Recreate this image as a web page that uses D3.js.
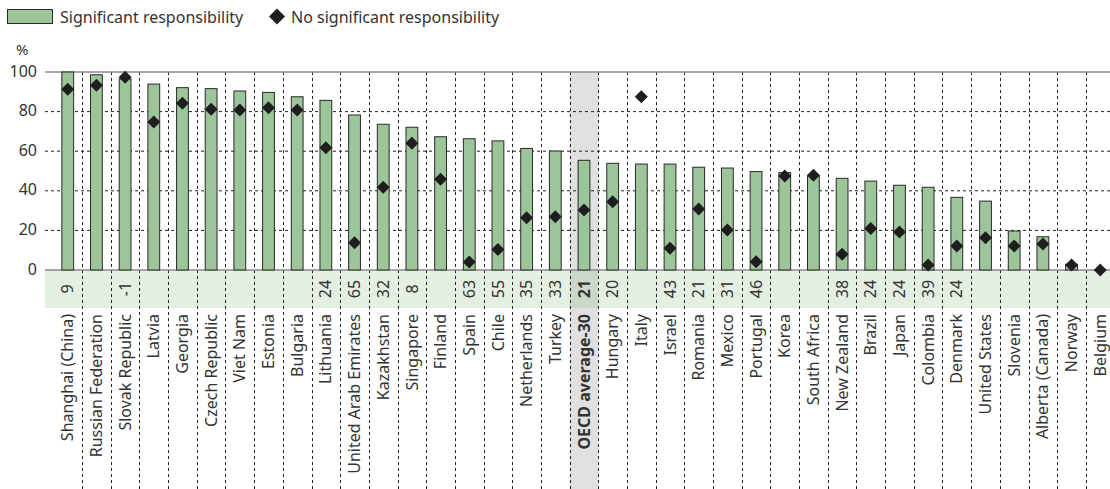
<!DOCTYPE html>
<html>
<head>
<meta charset="utf-8">
<script src="https://cdn.jsdelivr.net/npm/d3@7/dist/d3.min.js"></script>
<style>
  html, body { margin: 0; padding: 0; background: #fff; }
  svg { display: block; font-family: "Noto Sans", "Open Sans", sans-serif; }
</style>
</head>
<body>
<svg id="chart" width="1110" height="489"></svg>
<script>
const categories = ["Shanghai (China)", "Russian Federation", "Slovak Republic", "Latvia", "Georgia", "Czech Republic", "Viet Nam", "Estonia", "Bulgaria", "Lithuania", "United Arab Emirates", "Kazakhstan", "Singapore", "Finland", "Spain", "Chile", "Netherlands", "Turkey", "OECD average-30", "Hungary", "Italy", "Israel", "Romania", "Mexico", "Portugal", "Korea", "South Africa", "New Zealand", "Brazil", "Japan", "Colombia", "Denmark", "United States", "Slovenia", "Alberta (Canada)", "Norway", "Belgium"];
const significant = [100, 98.6, 96.5, 93.9, 92.1, 91.6, 90.4, 89.7, 87.5, 85.7, 78.3, 73.6, 72.1, 67.3, 66.3, 65.2, 61.4, 60.1, 55.4, 53.9, 53.5, 53.5, 51.9, 51.5, 49.7, 49.2, 47.6, 46.3, 44.9, 42.8, 41.8, 36.7, 34.8, 19.7, 16.8, 2.9, 0];
const noSignificant = [91.3, 93.3, 97.3, 74.7, 84.2, 81.2, 80.8, 82, 80.8, 61.8, 13.8, 41.8, 64, 45.8, 4, 10.4, 26.4, 26.9, 30.3, 34.5, 87.5, 11, 30.8, 20.2, 4.2, 47.5, 47.8, 7.9, 21, 19.2, 2.5, 12.1, 16.3, 12.1, 13.1, 2.5, 0];
const differences = ["9", "", "-1", "", "", "", "", "", "", "24", "65", "32", "8", "", "63", "55", "35", "33", "21", "20", "", "43", "21", "31", "46", "", "", "38", "24", "24", "39", "24", "", "", "", "", ""];
const yTicks = [0, 20, 40, 60, 80, 100];
const highlight = "OECD average-30";
const legendLabels = ["Significant responsibility", "No significant responsibility"];

const svg = d3.select("#chart");
const W = 1110, H = 489;
const plotLeft = 45, plotTop = 72, plotBottom = 270;
const rowTop = 270, rowBottom = 308;
const labelTop = 314;

const x = d3.scaleBand().domain(categories).range([53.4, 53.4 + 37 * 28.68]).paddingInner(0).paddingOuter(0);
const y = d3.scaleLinear().domain([0, 100]).range([plotBottom, plotTop]);

const textColor = "#333";
const barFill = "#9cc59a";
const rowFill = "#e5efe1";

// OECD highlight column
svg.append("rect")
  .attr("x", x(highlight)).attr("y", plotTop)
  .attr("width", x.bandwidth()).attr("height", H - plotTop)
  .attr("fill", "#e0e0e0");

// difference row background
svg.append("rect")
  .attr("x", plotLeft).attr("y", rowTop)
  .attr("width", W - plotLeft).attr("height", rowBottom - rowTop)
  .attr("fill", rowFill);
svg.append("rect")
  .attr("x", x(highlight)).attr("y", rowTop)
  .attr("width", x.bandwidth()).attr("height", rowBottom - rowTop)
  .attr("fill", "#ccd6c9");

// horizontal gridlines
svg.append("g").selectAll("line")
  .data(yTicks.filter(d => d > 0 && d < 100))
  .join("line")
  .attr("x1", plotLeft).attr("x2", W)
  .attr("y1", d => y(d)).attr("y2", d => y(d))
  .attr("stroke", "#222").attr("stroke-width", 1)
  .attr("stroke-dasharray", "3,3");

// vertical dashed separators
svg.append("g").selectAll("line")
  .data(categories.slice(1))
  .join("line")
  .attr("x1", d => Math.round(x(d)) + 0.5).attr("x2", d => Math.round(x(d)) + 0.5)
  .attr("y1", plotTop).attr("y2", H)
  .attr("stroke", "#222").attr("stroke-width", 1)
  .attr("stroke-dasharray", "3,3");

// top and baseline lines
[100, 0].forEach(v => {
  svg.append("line")
    .attr("x1", plotLeft).attr("x2", W)
    .attr("y1", y(v)).attr("y2", y(v))
    .attr("stroke", "#8a8a8a").attr("stroke-width", 1.5);
});

// y axis labels
const yAxis = d3.axisLeft(y).tickValues(yTicks).tickSize(0).tickPadding(0);
const gy = svg.append("g").attr("transform", `translate(37,0)`).call(yAxis);
gy.select(".domain").remove();
gy.selectAll("text")
  .attr("font-size", 16).attr("fill", textColor)
  .attr("font-family", "'Noto Sans', sans-serif")
  .attr("dy", null).attr("y", -2).attr("dominant-baseline", "central");

svg.append("text").attr("x", 16).attr("y", 55)
  .attr("font-size", 15).attr("fill", textColor).text("%");

// bars
const bw = 11.8;
svg.append("g").selectAll("rect")
  .data(categories.map((c, i) => ({c, v: significant[i]})).filter(d => d.v > 0))
  .join("rect")
  .attr("x", d => x(d.c) + x.bandwidth() / 2 - bw / 2)
  .attr("y", d => y(d.v))
  .attr("width", bw)
  .attr("height", d => y(0) - y(d.v))
  .attr("fill", barFill)
  .attr("stroke", "#2a2a2a").attr("stroke-width", 1);

// diamonds
const dsz = 6.5;
const diamond = `M0,${-dsz}L${dsz},0L0,${dsz}L${-dsz},0Z`;
svg.append("g").selectAll("path")
  .data(categories.map((c, i) => ({c, v: noSignificant[i]})))
  .join("path")
  .attr("transform", d => `translate(${x(d.c) + x.bandwidth() / 2},${y(d.v)})`)
  .attr("d", diamond)
  .attr("fill", "#1e1e1e");

// difference labels
svg.append("g").selectAll("text")
  .data(categories.map((c, i) => ({c, t: differences[i]})).filter(d => d.t !== ""))
  .join("text")
  .attr("transform", d => `translate(${x(d.c) + x.bandwidth() / 2},${(rowTop + rowBottom) / 2}) rotate(-90)`)
  .attr("text-anchor", "middle").attr("dy", "0.35em")
  .attr("font-size", 16).attr("fill", textColor)
  .attr("font-weight", d => d.c === highlight ? "bold" : "normal")
  .text(d => d.t);

// category labels
svg.append("g").selectAll("text")
  .data(categories)
  .join("text")
  .attr("transform", d => `translate(${x(d) + x.bandwidth() / 2},${labelTop}) rotate(-90)`)
  .attr("text-anchor", "end").attr("dy", "0.35em")
  .attr("font-size", 16).attr("fill", textColor)
  .attr("font-weight", d => d === highlight ? "bold" : "normal")
  .text(d => d);

// legend
const lg = svg.append("g");
lg.append("rect").attr("x", 7.5).attr("y", 9.5).attr("width", 45).attr("height", 14)
  .attr("fill", barFill).attr("stroke", "#2a2a2a").attr("stroke-width", 1);
lg.append("text").attr("x", 60).attr("y", 22.5).attr("font-size", 16).attr("fill", textColor).text(legendLabels[0]);
lg.append("path").attr("transform", "translate(277,16.5)")
  .attr("d", "M0,-8L8,0L0,8L-8,0Z").attr("fill", "#1e1e1e");
lg.append("text").attr("x", 291).attr("y", 22.5).attr("font-size", 16).attr("fill", textColor).text(legendLabels[1]);
</script>
</body>
</html>
